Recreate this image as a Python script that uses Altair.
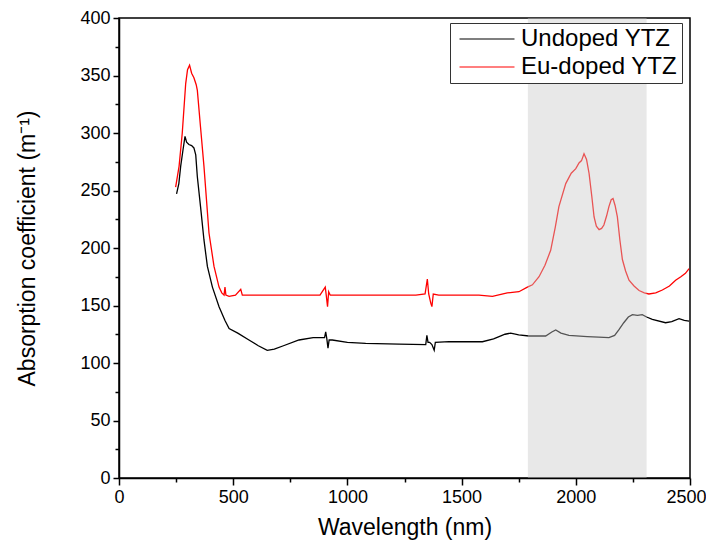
import altair as alt
import pandas as pd

# ---- data ----
series_names = ["Undoped YTZ", "Eu-doped YTZ"]
series_colors = ["#000000", "#ff0000"]

eu_wl = [248, 263, 277, 292, 300, 309, 318, 328, 338, 343, 357, 372, 394, 416, 438, 450, 460, 464, 468,
         482, 510, 533, 540, 600, 700, 800, 880, 903, 908, 913, 918, 925, 1000, 1100, 1200, 1300, 1340,
         1350, 1356, 1365, 1370, 1376, 1400, 1500, 1576, 1635, 1700, 1751, 1788, 1810, 1839, 1865, 1890,
         1910, 1926, 1956, 1980, 2000, 2014, 2025, 2036, 2047, 2058, 2070, 2080, 2090, 2102, 2113, 2123,
         2135, 2145, 2155, 2163, 2172, 2182, 2193, 2204, 2218, 2233, 2255, 2277, 2300, 2320, 2350, 2379,
         2410, 2437, 2460, 2480, 2496]
eu_val = [253, 271, 300, 343, 355, 359, 352, 348, 342, 337, 305, 271, 213, 184, 166, 161, 159, 166, 159,
          158, 159, 164, 159, 159, 159, 159, 159, 166, 158, 149, 162, 159, 159, 159, 159, 159, 160,
          173, 160, 152, 149, 160, 159, 159, 159, 158, 161, 162, 166, 168, 175, 185, 198,
          218, 236, 256, 265, 269, 274, 276, 282, 277, 265, 245, 227, 219, 216, 217, 220,
          228, 236, 242, 243, 237, 227, 207, 190, 180, 172, 167, 163, 161, 160, 161, 163.5,
          167, 172, 175, 178, 182]

un_wl = [252, 262, 270, 280, 289, 296, 306, 318, 328, 336, 343, 357, 372, 387, 409, 438, 464, 482, 520,
         569, 610, 649, 680, 720, 788, 850, 900, 905, 910, 915, 920, 934, 1000, 1080, 1226, 1343, 1348,
         1353, 1360, 1370, 1380, 1385, 1445, 1591, 1640, 1664, 1690, 1715, 1750, 1795, 1868, 1895, 1912,
         1935, 1970, 2050, 2100, 2145, 2170, 2189, 2210, 2230, 2248, 2270, 2291, 2310, 2335, 2393, 2420,
         2452, 2475, 2496]
un_val = [247, 256, 271, 285, 297, 292, 290, 289, 287, 281, 262, 236, 207, 184, 166, 149, 137, 130, 126,
          120, 115, 111, 112, 115, 120, 122, 122, 127, 121, 113, 120, 120, 118, 117, 116.5, 116, 124,
          118, 118, 116, 111, 118, 118.5, 118.5, 121, 123, 125, 126, 124.5, 123.5, 123.5, 127, 128.7,
          126, 124, 123, 122.5, 122, 124, 129, 135, 140, 142, 141.5, 142, 140, 138, 135, 136,
          138.5, 137, 136.5]

shade_start = [1790]
shade_end = [2310]

x_ticks = list(range(0, 2501, 250))
y_ticks = list(range(0, 401, 25))

df = pd.concat([
    pd.DataFrame({"wl": un_wl, "val": un_val, "series": series_names[0]}),
    pd.DataFrame({"wl": eu_wl, "val": eu_val, "series": series_names[1]}),
])
shade_df = pd.DataFrame({"start": shade_start, "end": shade_end})

FONT = "Liberation Sans"

lines = alt.Chart(df).mark_line(strokeWidth=1.3).encode(
    x=alt.X("wl:Q", scale=alt.Scale(domain=[0, 2500], nice=False),
            axis=alt.Axis(values=x_ticks, title="Wavelength (nm)",
                          labelExpr="datum.value % 500 === 0 ? datum.label : ''",
                          tickSize={"expr": "datum.value % 500 === 0 ? 7 : 4"},
                          labelOffset={"expr": "datum.value === 2500 ? -4 : 0"},
                          labelFlush=False, grid=False, format="d")),
    y=alt.Y("val:Q", scale=alt.Scale(domain=[0, 400], nice=False),
            axis=alt.Axis(values=y_ticks, title="Absorption coefficient (m⁻¹)",
                          labelExpr="datum.value % 50 === 0 ? datum.label : ''",
                          tickSize={"expr": "datum.value % 50 === 0 ? 6 : 4"},
                          grid=False, titlePadding=40)),
    color=alt.Color("series:N", scale=alt.Scale(domain=series_names, range=series_colors),
                    legend=alt.Legend(title=None, orient="none", legendX=331, legendY=5,
                                      symbolType="M-3,0H3", symbolSize=336, symbolStrokeWidth=1.2,
                                      symbolOffset=21,
                                      labelFontSize=24, labelFont=FONT, labelColor="black",
                                      strokeColor="#333333", fillColor="white", padding=4,
                                      labelOffset=22, rowPadding=4)),
    order=alt.Order("wl:Q"),
)

shade = alt.Chart(shade_df).mark_rect(color="#c8c8c8", opacity=0.42).encode(
    x="start:Q", x2="end:Q", y=alt.value(0), y2=alt.value(460)
)

chart = alt.layer(lines, shade).properties(
    width=571, height=460,
    autosize=alt.AutoSizeParams(type="none"),
    padding={"left": 111, "top": 10, "right": 16, "bottom": 64},
).configure_view(stroke="black", strokeWidth=1.5).configure_axis(
    domainColor="black", domainWidth=1.5, tickColor="black", tickWidth=1.5,
    labelFont=FONT, labelFontSize=18, labelColor="black", labelPadding=3,
    titleFont=FONT, titleFontSize=23, titleFontWeight="normal", titleColor="black",
).configure_axisX(titlePadding=10)

chart.save("out.html", embed_options={"renderer": "svg", "actions": False})
